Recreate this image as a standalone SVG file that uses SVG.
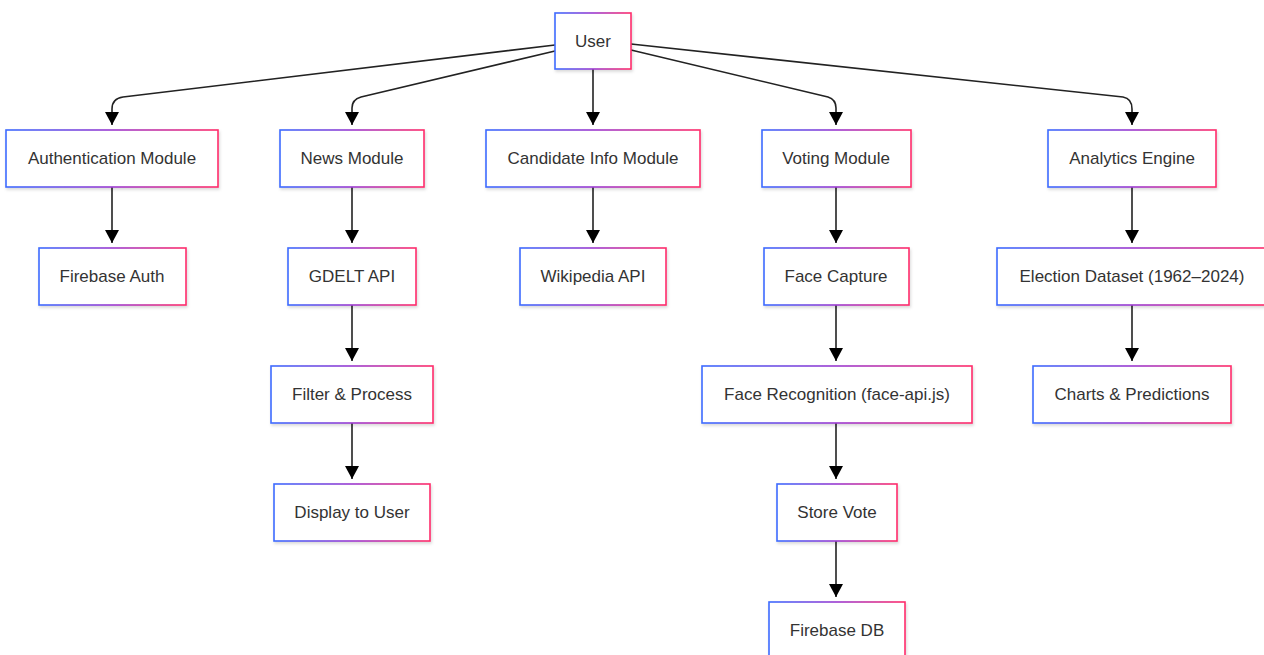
<svg xmlns="http://www.w3.org/2000/svg" width="1264" height="655" viewBox="0 0 1264 655">
<style>
.node rect{fill:#fff;stroke:url(#grad);stroke-width:1.6;filter:url(#sh)}
.node text{font-family:"Liberation Sans",Arial,sans-serif;font-size:17px;fill:#333;text-anchor:middle}
.edge{fill:none;stroke:#222;stroke-width:1.6;marker-end:url(#arrow)}
</style>
<defs>
<linearGradient id="grad" x1="0" y1="0" x2="1" y2="0">
<stop offset="0" stop-color="#3d6bff"/>
<stop offset="0.5" stop-color="#9b3bd0"/>
<stop offset="1" stop-color="#ff2d6a"/>
</linearGradient>
<filter id="sh" x="-10%" y="-10%" width="120%" height="130%">
<feDropShadow dx="1" dy="2" stdDeviation="1.5" flood-color="#000" flood-opacity="0.15"/>
</filter>
<marker id="arrow" markerUnits="userSpaceOnUse" markerWidth="16" markerHeight="14" refX="13" refY="7" orient="auto">
<path d="M0,0 L13,7 L0,14 Z" fill="#000"/>
</marker>
</defs>
<g id="connectors">
<path class="edge" d="M555,45 L123,97 Q112,98.5 112,109 L112,125"/>
<path class="edge" d="M555,51 L361,97 Q352,99.5 352,108 L352,125"/>
<path class="edge" d="M593,69 L593,125"/>
<path class="edge" d="M631,50 L828,97 Q836,99.5 836,108 L836,125"/>
<path class="edge" d="M631,44 L1123,97 Q1132,98.5 1132,109 L1132,125"/>
<path class="edge" d="M112,187 L112,243"/>
<path class="edge" d="M352,187 L352,243"/>
<path class="edge" d="M593,187 L593,243"/>
<path class="edge" d="M836,187 L836,243"/>
<path class="edge" d="M1132,187 L1132,243"/>
<path class="edge" d="M352,305 L352,361"/>
<path class="edge" d="M352,423 L352,479"/>
<path class="edge" d="M836,305 L836,361"/>
<path class="edge" d="M836,423 L836,479"/>
<path class="edge" d="M836,541 L836,597"/>
<path class="edge" d="M1132,305 L1132,361"/>
</g>
<g id="user" class="node"><rect x="555" y="13" width="76" height="56"/><text x="593" y="47">User</text></g>
<g id="auth" class="node"><rect x="6" y="130" width="212" height="57"/><text x="112" y="164">Authentication Module</text></g>
<g id="news" class="node"><rect x="280" y="130" width="144" height="57"/><text x="352" y="164">News Module</text></g>
<g id="candidate" class="node"><rect x="486" y="130" width="214" height="57"/><text x="593" y="164">Candidate Info Module</text></g>
<g id="voting" class="node"><rect x="762" y="130" width="149" height="57"/><text x="836" y="164">Voting Module</text></g>
<g id="analytics" class="node"><rect x="1048" y="130" width="168" height="57"/><text x="1132" y="164">Analytics Engine</text></g>
<g id="firebaseauth" class="node"><rect x="39" y="248" width="147" height="57"/><text x="112" y="282">Firebase Auth</text></g>
<g id="gdelt" class="node"><rect x="288" y="248" width="128" height="57"/><text x="352" y="282">GDELT API</text></g>
<g id="wikipedia" class="node"><rect x="520" y="248" width="146" height="57"/><text x="593" y="282">Wikipedia API</text></g>
<g id="facecapture" class="node"><rect x="764" y="248" width="145" height="57"/><text x="836" y="282">Face Capture</text></g>
<g id="dataset" class="node"><rect x="997" y="248" width="270" height="57"/><text x="1132" y="282">Election Dataset (1962–2024)</text></g>
<g id="filter" class="node"><rect x="271" y="366" width="162" height="57"/><text x="352" y="400">Filter &amp; Process</text></g>
<g id="facerec" class="node"><rect x="702" y="366" width="270" height="57"/><text x="837" y="400">Face Recognition (face-api.js)</text></g>
<g id="charts" class="node"><rect x="1033" y="366" width="198" height="57"/><text x="1132" y="400">Charts &amp; Predictions</text></g>
<g id="display" class="node"><rect x="274" y="484" width="156" height="57"/><text x="352" y="518">Display to User</text></g>
<g id="storevote" class="node"><rect x="777" y="484" width="120" height="57"/><text x="837" y="518">Store Vote</text></g>
<g id="firebasedb" class="node"><rect x="769" y="602" width="136" height="57"/><text x="837" y="636">Firebase DB</text></g>
</svg>
